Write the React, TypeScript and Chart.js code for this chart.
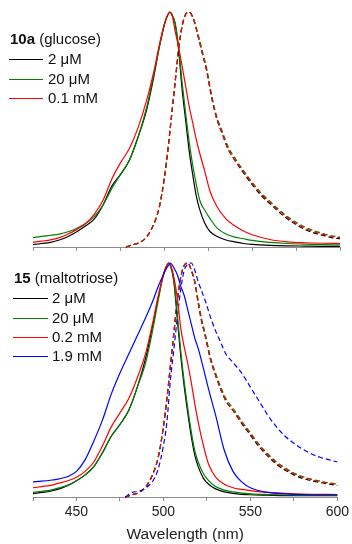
import React, { useEffect, useRef } from "react";
import { Chart, registerables } from "chart.js";

Chart.register(...registerables);

// ---------- data ----------
const absWl = [425, 430, 435, 440, 445, 450, 455, 460, 465, 470, 475, 480, 485, 490, 494, 497, 500, 502, 503, 504, 506, 508, 510, 512, 514, 516, 518, 520, 523, 526, 530, 535, 540, 545, 550, 560, 570, 580, 590, 600];
const emWl = [478, 482, 486, 490, 494, 497, 500, 502, 504, 506, 508, 510, 512, 514, 516, 518, 520, 522, 524, 527, 530, 533, 536, 540, 545, 550, 555, 560, 565, 570, 575, 580, 585, 590, 595, 600];

// Panel A: 10a (glucose) — excitation (solid)
const aExc2uM = [0.01, 0.015, 0.02, 0.03, 0.045, 0.065, 0.09, 0.12, 0.18, 0.26, 0.31, 0.37, 0.47, 0.59, 0.73, 0.85, 0.95, 0.99, 1.0, 0.99, 0.95, 0.84, 0.67, 0.54, 0.41, 0.31, 0.22, 0.16, 0.10, 0.065, 0.045, 0.03, 0.022, 0.015, 0.011, 0.007, 0.005, 0.004, 0.003, 0.003];
const aExc20uM = [0.04, 0.045, 0.05, 0.055, 0.065, 0.08, 0.10, 0.13, 0.18, 0.25, 0.31, 0.37, 0.47, 0.60, 0.74, 0.85, 0.95, 0.99, 1.0, 0.99, 0.955, 0.85, 0.70, 0.57, 0.45, 0.35, 0.27, 0.20, 0.155, 0.12, 0.08, 0.055, 0.042, 0.035, 0.028, 0.02, 0.015, 0.012, 0.01, 0.009];
const aExc01mM = [0.02, 0.025, 0.03, 0.04, 0.055, 0.075, 0.10, 0.14, 0.20, 0.29, 0.36, 0.42, 0.51, 0.63, 0.75, 0.86, 0.95, 0.99, 1.0, 0.995, 0.92, 0.85, 0.77, 0.685, 0.60, 0.53, 0.46, 0.40, 0.32, 0.235, 0.17, 0.12, 0.09, 0.068, 0.052, 0.032, 0.022, 0.018, 0.016, 0.015];
// Panel A — emission (dashed)
const aEm2uM = [0.0, 0.01, 0.02, 0.045, 0.10, 0.17, 0.30, 0.42, 0.56, 0.70, 0.84, 0.94, 0.99, 1.0, 0.98, 0.93, 0.87, 0.81, 0.75, 0.63, 0.54, 0.48, 0.42, 0.37, 0.315, 0.265, 0.22, 0.185, 0.15, 0.12, 0.095, 0.075, 0.06, 0.05, 0.04, 0.035];
const aEm20uM = [0.0, 0.01, 0.02, 0.045, 0.10, 0.17, 0.30, 0.42, 0.56, 0.70, 0.84, 0.94, 0.99, 1.0, 0.98, 0.935, 0.88, 0.82, 0.76, 0.64, 0.55, 0.49, 0.43, 0.38, 0.325, 0.275, 0.23, 0.195, 0.16, 0.13, 0.105, 0.085, 0.07, 0.058, 0.048, 0.042];
const aEm01mM = [0.0, 0.01, 0.02, 0.045, 0.10, 0.17, 0.30, 0.42, 0.56, 0.70, 0.84, 0.94, 0.99, 1.0, 0.98, 0.93, 0.87, 0.81, 0.75, 0.63, 0.54, 0.48, 0.42, 0.37, 0.32, 0.27, 0.225, 0.19, 0.155, 0.125, 0.10, 0.08, 0.065, 0.055, 0.045, 0.04];

// Panel B: 15 (maltotriose) — excitation (solid)
const bExc2uM = [0.015, 0.02, 0.025, 0.035, 0.05, 0.07, 0.095, 0.13, 0.19, 0.26, 0.31, 0.37, 0.47, 0.60, 0.74, 0.85, 0.95, 0.99, 1.0, 0.99, 0.92, 0.76, 0.60, 0.47, 0.36, 0.26, 0.18, 0.13, 0.08, 0.055, 0.035, 0.022, 0.016, 0.012, 0.01, 0.008, 0.006, 0.006, 0.006, 0.006];
const bExc20uM = [0.02, 0.025, 0.03, 0.04, 0.05, 0.07, 0.095, 0.13, 0.19, 0.26, 0.31, 0.37, 0.47, 0.58, 0.72, 0.84, 0.95, 0.99, 1.0, 0.99, 0.93, 0.78, 0.62, 0.49, 0.38, 0.28, 0.20, 0.15, 0.10, 0.07, 0.045, 0.03, 0.022, 0.017, 0.014, 0.011, 0.009, 0.008, 0.008, 0.008];
const bExc02mM = [0.04, 0.045, 0.05, 0.06, 0.07, 0.085, 0.11, 0.15, 0.22, 0.30, 0.36, 0.42, 0.51, 0.62, 0.75, 0.86, 0.95, 0.99, 1.0, 0.995, 0.94, 0.85, 0.72, 0.64, 0.57, 0.49, 0.40, 0.32, 0.22, 0.14, 0.085, 0.055, 0.04, 0.033, 0.028, 0.02, 0.016, 0.013, 0.012, 0.011];
const bExc19mM = [0.065, 0.068, 0.072, 0.078, 0.088, 0.11, 0.16, 0.24, 0.33, 0.44, 0.53, 0.61, 0.69, 0.77, 0.84, 0.90, 0.95, 0.98, 0.99, 1.0, 0.98, 0.95, 0.90, 0.86, 0.80, 0.74, 0.68, 0.635, 0.55, 0.46, 0.35, 0.20, 0.11, 0.065, 0.04, 0.02, 0.014, 0.011, 0.01, 0.01];
// Panel B — emission (dashed)
const bEm2uM = [0.0, 0.01, 0.02, 0.045, 0.10, 0.17, 0.30, 0.42, 0.56, 0.70, 0.84, 0.94, 0.99, 1.0, 0.97, 0.92, 0.83, 0.75, 0.69, 0.59, 0.52, 0.46, 0.41, 0.37, 0.315, 0.265, 0.215, 0.175, 0.14, 0.115, 0.095, 0.08, 0.07, 0.062, 0.056, 0.05];
const bEm20uM = [0.0, 0.01, 0.02, 0.045, 0.10, 0.17, 0.30, 0.42, 0.56, 0.70, 0.84, 0.94, 0.99, 1.0, 0.97, 0.92, 0.84, 0.76, 0.70, 0.60, 0.53, 0.47, 0.42, 0.38, 0.325, 0.275, 0.225, 0.185, 0.15, 0.125, 0.103, 0.088, 0.077, 0.068, 0.061, 0.056];
const bEm02mM = [0.0, 0.01, 0.02, 0.045, 0.10, 0.17, 0.30, 0.42, 0.56, 0.70, 0.84, 0.94, 0.99, 1.0, 0.97, 0.92, 0.83, 0.75, 0.69, 0.59, 0.52, 0.46, 0.41, 0.37, 0.32, 0.27, 0.22, 0.18, 0.145, 0.12, 0.10, 0.085, 0.075, 0.066, 0.06, 0.055];
const bEm19mM = [0.0, 0.02, 0.025, 0.04, 0.07, 0.12, 0.22, 0.32, 0.50, 0.63, 0.77, 0.89, 0.97, 0.995, 1.0, 0.97, 0.92, 0.88, 0.84, 0.77, 0.71, 0.66, 0.61, 0.575, 0.53, 0.47, 0.41, 0.35, 0.30, 0.26, 0.23, 0.205, 0.185, 0.17, 0.16, 0.15];

const xMin = 425;
const xMax = 600;
const tickStep = 25;
const labelStep = 50;

const labelsA = ["2 μM", "20 μM", "0.1 mM"];
const labelsB = ["2 μM", "20 μM", "0.2 mM", "1.9 mM"];
const colors = ["#000000", "#008000", "#ff0000", "#0000ff"];

const FONT = "Arial, 'Liberation Sans', sans-serif";

// ---------- helpers ----------
const toPts = (xs: number[], ys: number[]) => xs.map((x, i) => ({ x, y: ys[i] }));

function makeDs(xs: number[], ys: number[], color: string, dashed: boolean, order: number) {
  return {
    data: toPts(xs, ys),
    borderColor: color,
    backgroundColor: color,
    borderWidth: 1.2,
    borderDash: dashed ? [5, 3] : [],
    pointRadius: 0,
    cubicInterpolationMode: "monotone" as const,
    fill: false,
    clip: false as const,
    order,
  };
}

function baseOptions(showLabels: boolean, padTop: number, padBottom: number): any {
  return {
    animation: false,
    responsive: true,
    maintainAspectRatio: false,
    layout: { padding: { left: 33, right: 12, top: padTop, bottom: padBottom } },
    plugins: { legend: { display: false }, tooltip: { enabled: false } },
    scales: {
      x: {
        type: "linear",
        min: xMin,
        max: xMax,
        grid: { display: true, drawOnChartArea: false, drawTicks: true, tickLength: 4, color: "#8c8c8c", lineWidth: 1 },
        border: { display: true, color: "#8c8c8c", width: 1 },
        ticks: {
          display: showLabels,
          stepSize: tickStep,
          autoSkip: false,
          maxRotation: 0,
          padding: 3,
          color: "#222222",
          font: { family: FONT, size: 14 },
          callback: (v: number) => (v % labelStep === 0 ? String(v) : ""),
        },
        title: {
          display: showLabels,
          text: "Wavelength (nm)",
          color: "#222222",
          font: { family: FONT, size: 15.5 },
          padding: { top: 1.5, bottom: 0 },
        },
      },
      y: { display: false, min: 0, max: 1 },
    },
  };
}

function Legend(props: { title: string; sub: string; labels: string[]; left: number; lineW: number; textX: number; titleY: number; rowY: number[] }) {
  const txt: React.CSSProperties = { position: "absolute", fontFamily: FONT, fontSize: 15, lineHeight: "18px", color: "#111", whiteSpace: "nowrap" };
  return (
    <>
      <div style={{ ...txt, left: props.left + 1, top: props.titleY - 9 }}>
        <b>{props.title}</b> {props.sub}
      </div>
      {props.labels.map((l, i) => (
        <React.Fragment key={i}>
          <div style={{ position: "absolute", left: props.left, top: Math.round(props.rowY[i]), width: props.lineW, height: 1, background: colors[i] }} />
          <div style={{ ...txt, left: props.textX, top: props.rowY[i] - 9 }}>{l}</div>
        </React.Fragment>
      ))}
    </>
  );
}

export default function App() {
  const topRef = useRef<HTMLCanvasElement | null>(null);
  const botRef = useRef<HTMLCanvasElement | null>(null);

  useEffect(() => {
    const top = new Chart(topRef.current as HTMLCanvasElement, {
      type: "line",
      data: {
        datasets: [
          makeDs(emWl, aEm2uM, colors[0], true, 6),
          makeDs(emWl, aEm20uM, colors[1], true, 5),
          makeDs(emWl, aEm01mM, colors[2], true, 4),
          makeDs(absWl, aExc2uM, colors[0], false, 3),
          makeDs(absWl, aExc20uM, colors[1], false, 2),
          makeDs(absWl, aExc01mM, colors[2], false, 1),
        ] as any,
      },
      options: baseOptions(false, 12, 5),
    });
    const bot = new Chart(botRef.current as HTMLCanvasElement, {
      type: "line",
      data: {
        datasets: [
          makeDs(emWl, bEm2uM, colors[0], true, 8),
          makeDs(emWl, bEm20uM, colors[1], true, 7),
          makeDs(emWl, bEm02mM, colors[2], true, 6),
          makeDs(emWl, bEm19mM, colors[3], true, 5),
          makeDs(absWl, bExc2uM, colors[0], false, 4),
          makeDs(absWl, bExc20uM, colors[1], false, 3),
          makeDs(absWl, bExc02mM, colors[2], false, 2),
          makeDs(absWl, bExc19mM, colors[3], false, 1),
        ] as any,
      },
      options: baseOptions(true, 7, 0),
    });
    return () => {
      top.destroy();
      bot.destroy();
    };
  }, []);

  return (
    <div style={{ position: "absolute", left: 0, top: 0, width: 352, height: 544, background: "#fff" }}>
      <div style={{ position: "absolute", left: 0, top: 0, width: 352, height: 256 }}>
        <canvas ref={topRef} />
      </div>
      <div style={{ position: "absolute", left: 0, top: 256, width: 352, height: 288 }}>
        <canvas ref={botRef} />
      </div>
      <Legend title="10a" sub="(glucose)" labels={labelsA} left={9} lineW={34} textX={48} titleY={39} rowY={[59, 79, 98]} />
      <Legend title="15" sub="(maltotriose)" labels={labelsB} left={13} lineW={35} textX={52} titleY={278} rowY={[298, 318, 337, 356]} />
    </div>
  );
}
